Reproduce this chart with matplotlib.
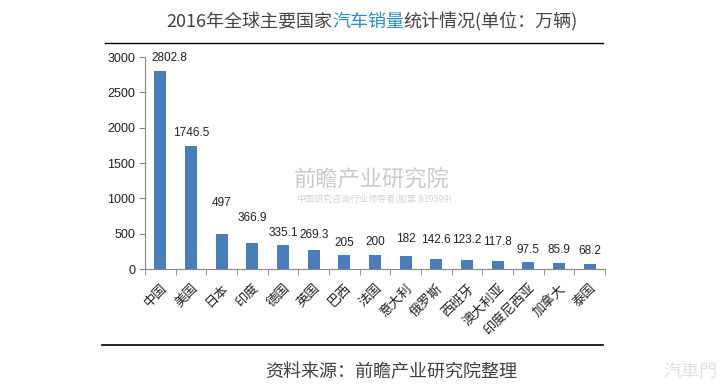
import matplotlib
matplotlib.use("Agg")
import matplotlib.pyplot as plt
import numpy as np

plt.rcParams['font.family'] = ['Noto Sans CJK SC', 'DejaVu Sans']

categories = ['中国', '美国', '日本', '印度', '德国', '英国', '巴西', '法国', '意大利',
              '俄罗斯', '西班牙', '澳大利亚', '印度尼西亚', '加拿大', '泰国']
values = [2802.8, 1746.5, 497, 366.9, 335.1, 269.3, 205, 200, 182,
          142.6, 123.2, 117.8, 97.5, 85.9, 68.2]
value_labels = ['2802.8', '1746.5', '497', '366.9', '335.1', '269.3', '205', '200', '182',
                '142.6', '123.2', '117.8', '97.5', '85.9', '68.2']
yticks = [0, 500, 1000, 1500, 2000, 2500, 3000]

# label placement (pixels above bar top, label centre) and horizontal nudges
label_dy = [13, 13, 31, 25, 12, 15, 12, 13, 17, 19, 20, 19, 12, 13, 13]
label_dx = [9, 0, 0, 0, 0, 0, 0, 0, 0, 0, 0, 0, 0, 0, 0]

W, H = 724, 391
fig = plt.figure(figsize=(W/100, H/100), dpi=100)
ax = fig.add_axes([145/W, 1-269/H, 460/W, (269-57)/H])

x = np.arange(len(categories))
ax.bar(x, values, width=0.4, color='#4a7ebb', zorder=2)
ax.set_xlim(-0.5, len(categories)-0.5)
ax.set_ylim(0, 3000)
ax.set_yticks(yticks)
ax.set_yticklabels([str(t) for t in yticks], fontsize=9, color='#222222', family=['Liberation Sans'])
ax.set_xticks(x)
ax.set_xticklabels(categories, rotation=45, ha='right', rotation_mode='anchor',
                   fontsize=9.5, color='#222222')
ax.set_xticks(np.arange(-0.5, len(categories), 1), minor=True)
ax.tick_params(axis='x', which='major', length=0, pad=9)
ax.tick_params(axis='x', which='minor', length=4, color='#888888', direction='out')
ax.tick_params(axis='y', length=4, color='#888888', direction='out', pad=3)
for s in ['top', 'right']:
    ax.spines[s].set_visible(False)
ax.spines['left'].set_color('#888888')
ax.spines['bottom'].set_color('#888888')

for xi, v, lab, dy, dx in zip(x, values, value_labels, label_dy, label_dx):
    ax.annotate(lab, (xi, v), xytext=(dx, dy), textcoords='offset pixels',
                ha='center', va='center', fontsize=8.5, color='#222222',
                family=['Liberation Sans'])

# watermark
fig.text(372/W, 1-180/H, '前瞻产业研究院', fontsize=16, color='#c8cbce', ha='center', va='center',
         zorder=0)
fig.text(374/W, 1-198/H, '中国研究咨询行业领导者(股票:839599)', fontsize=6.5, color='#d0d3d6',
         ha='center', va='center', zorder=0)
fig.text(690/W, 1-372/H, '汽車門', fontsize=13, color='#e2e2e2', ha='center', va='center', zorder=0)

# title with coloured part
renderer = fig.canvas.get_renderer()
parts = [('2016年全球主要国家', '#444444'), ('汽车销量', '#2a8fc4'), ('统计情况(单位：万辆)', '#444444')]
texts = []
total = 0
for s, c in parts:
    t = fig.text(0, 1-22/H, s, fontsize=13, color=c, ha='left', va='center')
    bb = t.get_window_extent(renderer)
    texts.append((t, bb.width))
    total += bb.width
pos = 372 - total/2
for t, w in texts:
    t.set_position((pos/W, 1-22/H))
    pos += w

# lines
fig.add_artist(plt.Line2D([105/W, 603/W], [1-43/H, 1-43/H], color='black', lw=1))
fig.add_artist(plt.Line2D([102/W, 603/W], [1-345/H, 1-345/H], color='black', lw=1.2))

fig.text(391/W, 1-372/H, '资料来源：前瞻产业研究院整理', fontsize=13, color='#404040',
         ha='center', va='center')

fig.savefig('out.png', dpi=100)
